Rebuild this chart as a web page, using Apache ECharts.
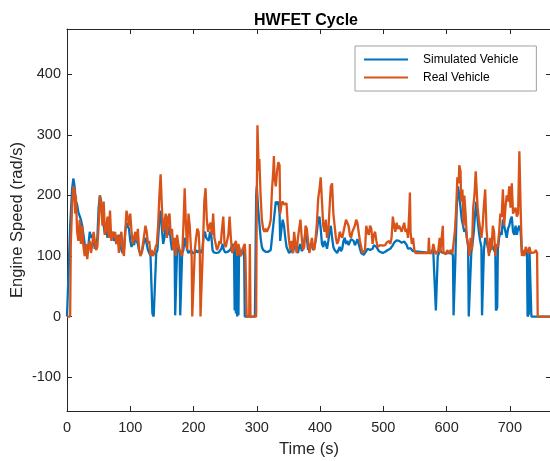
<!DOCTYPE html>
<html>
<head>
<meta charset="utf-8">
<script src="https://cdn.jsdelivr.net/npm/echarts@6/dist/echarts.min.js"></script>
<style>html,body{margin:0;padding:0;background:#fff}#c{width:550px;height:461px}</style>
</head>
<body>
<div id="c"></div>
<script>
const xTicks = [0,100,200,300,400,500,600,700];
const yTicks = [-100,0,100,200,300,400];

const simTime = [0,2,5,8,10,12,14,16,18,20,22,24,26,28,30,32,34,36,38,40,42,44,46,48,50,52,54,56,58,60,62,64,66,68,70,72,74,76,78,80,82,84,86,88,90,92,94,96,98,100,102,104,106,108,110,112,114,116,118,120,122,124,126,128,130,132,134,135,137,140,141,143,146,148,150,152,154,156,158,160,162,164,166,168,170,171,173,174,176,178,179,181,182,184,186,188,190,192,194,196,198,200,202,204,206,208,210,212,214,216,218,220,222,224,226,228,230,232,236,240,244,246,248,250,254,258,262,264,265,266,267,268,269,270,271,272,274,276,278,280,281,297,299,300,302,304,306,308,310,314,318,322,324,326,328,330,332,334,336,337,339,341,343,345,347,349,351,353,355,357,359,361,363,365,367,369,371,373,375,377,379,381,383,385,387,389,391,393,395,397,399,401,403,405,407,409,411,413,415,417,419,421,423,425,427,429,431,433,435,437,439,441,443,445,447,449,451,453,455,457,459,461,463,465,467,469,471,473,475,477,479,481,483,485,487,489,491,493,495,499,503,507,511,513,515,517,519,521,523,525,527,529,531,533,535,537,539,541,543,545,547,549,575,577,579,581,583,585,586,588,590,592,594,598,600,602,604,606,608,610,611,613,614,616,618,620,622,624,626,628,630,632,634,635,638,639,641,643,645,647,649,651,653,655,656,658,659,661,663,665,667,669,671,673,675,677,678,680,681,683,685,687,689,691,693,695,697,699,701,703,705,707,709,711,713,715,717,719,721,725,727,728,730,731,733,734,765];
const simSpeed = [0,60,150,210,228,215,190,185,172,170,160,150,135,120,110,105,120,140,130,135,125,112,115,130,180,200,198,180,150,135,145,130,150,140,135,140,125,130,120,125,135,120,110,105,110,140,155,150,145,125,115,125,118,130,125,120,108,105,105,115,125,130,120,110,105,100,100,5,0,0,105,110,160,175,145,120,130,150,140,135,150,125,110,115,125,2,5,110,115,105,2,0,105,110,130,120,110,105,105,110,105,108,105,110,106,105,110,105,110,135,140,130,132,125,140,135,110,106,105,106,112,120,110,106,107,110,120,105,10,120,5,110,0,115,2,115,100,105,110,100,0,0,200,215,180,155,130,115,110,107,107,110,130,150,170,190,185,190,170,125,145,160,150,130,115,110,105,108,110,105,115,120,110,105,115,120,108,112,125,140,130,110,120,115,120,110,115,125,140,160,165,145,120,115,125,120,112,125,140,150,130,115,110,108,105,110,115,108,112,125,130,120,125,118,120,128,130,125,118,122,128,120,112,105,102,102,105,108,112,115,110,108,112,118,120,115,112,108,105,105,107,110,112,115,118,122,120,126,128,125,128,122,125,124,126,118,112,112,113,110,108,105,105,110,106,105,10,10,100,105,110,106,105,105,104,105,108,105,104,102,2,0,100,180,215,200,180,160,150,140,145,130,115,0,0,105,120,140,170,190,160,140,125,115,2,5,110,130,125,115,105,110,120,115,110,105,10,15,110,130,140,135,160,150,140,130,145,150,160,165,140,135,150,135,145,150,140,105,105,105,110,0,5,110,110,0,0];

const realTime = [0,5,6,8,10,12,13,14,16,18,20,22,24,26,28,30,32,34,36,38,40,42,44,46,48,50,52,54,56,58,60,62,64,66,68,70,72,74,76,78,80,82,84,86,88,90,92,94,96,98,100,102,104,106,108,110,112,114,116,118,120,122,124,126,128,130,132,134,136,138,140,142,144,146,148,150,152,154,156,158,160,162,164,166,168,170,172,174,176,178,180,182,184,186,188,190,192,194,196,197,198,201,202,204,206,208,210,211,214,215,217,219,221,223,225,227,229,231,233,235,237,239,241,243,245,247,249,251,253,255,257,259,261,263,265,267,269,271,273,275,277,279,281,282,284,288,289,290,299,300,301,302,303,304,306,308,310,312,314,316,318,320,322,324,326,327,328,330,332,334,336,337,339,341,343,345,347,349,351,353,355,357,359,361,363,365,367,369,371,373,375,377,379,381,383,385,387,389,391,393,395,397,399,401,403,405,407,409,411,413,415,417,419,421,423,425,427,429,431,433,435,437,439,441,443,445,447,449,451,453,455,457,459,461,463,465,467,469,471,473,475,477,479,481,483,485,487,489,491,493,495,497,499,501,503,505,507,509,511,513,515,517,519,521,523,525,527,529,531,533,535,537,539,541,542,543,545,547,549,551,571,572,573,577,579,581,583,585,587,589,590,592,594,595,597,599,601,603,605,607,609,611,613,615,617,619,620,622,623,625,627,628,630,632,634,636,638,640,642,644,646,647,649,651,653,655,657,659,661,663,665,667,669,671,673,675,677,679,681,683,685,687,689,691,693,695,697,699,701,703,705,707,709,711,713,715,717,719,721,723,725,727,729,731,733,735,739,741,743,744,765];
const realSpeed = [0,0,120,180,215,210,170,200,140,125,160,120,150,115,100,120,95,115,125,105,120,140,125,110,115,150,200,185,150,190,135,145,165,130,175,125,140,130,140,120,135,105,130,140,110,100,140,175,165,150,170,140,120,130,140,125,145,110,100,105,120,135,150,140,120,125,100,110,100,105,115,120,150,200,235,180,140,155,170,130,165,170,135,145,110,130,100,135,120,110,105,100,150,212,150,110,170,150,110,100,0,0,110,130,145,140,100,0,0,120,190,212,160,140,150,155,135,170,130,120,110,115,125,120,145,165,120,115,125,135,165,130,105,110,120,125,100,120,105,100,110,110,120,100,0,0,120,0,0,200,316,280,240,260,200,160,145,140,145,140,145,150,160,210,240,265,230,215,240,255,250,170,185,190,185,185,187,150,125,110,125,105,140,120,105,130,145,160,130,110,115,150,145,125,105,115,130,115,110,130,155,195,210,230,190,150,140,160,130,140,180,215,220,170,150,130,120,125,140,135,130,140,150,160,158,150,135,130,140,145,150,160,155,140,125,115,105,102,110,150,140,135,150,145,120,135,140,125,115,112,118,115,117,120,118,122,120,125,120,130,165,150,140,155,145,150,145,140,148,155,140,145,130,175,205,140,120,130,110,105,105,130,105,105,120,110,103,103,110,130,105,105,150,105,103,103,110,105,103,110,103,100,140,175,230,220,250,240,190,210,150,200,170,130,120,100,130,110,180,200,240,220,180,160,145,130,150,185,210,145,120,100,130,110,150,140,100,120,115,140,170,165,210,150,180,200,190,215,180,220,170,175,180,165,170,273,180,100,110,100,115,110,105,115,105,106,106,110,105,0,0];

const zip = (a, b) => a.map((t, i) => [t, b[i]]);
const axisCol = '#262626';
const fontFam = '"Liberation Sans", Arial, sans-serif';
const lineIcon = 'path://M0,0 L44,0 L44,0.01 Z M0,5.4 L44,5.4 L44,7.6 L0,7.6 Z M0,13 L44,13 L44,13.01 Z';

const chart = echarts.init(document.getElementById('c'), null, {renderer: 'canvas'});
chart.setOption({
  animation: false,
  backgroundColor: '#fff',
  title: {
    text: 'HWFET Cycle', left: 301, top: 8, textAlign: 'center',
    textStyle: {fontFamily: fontFam, fontSize: 16, fontWeight: 'bold', color: '#000'}
  },
  legend: {
    orient: 'vertical', left: 355, top: 46,
    data: [{name: 'Simulated Vehicle', icon: lineIcon}, {name: 'Real Vehicle', icon: lineIcon}],
    borderColor: '#a0a0a0', borderWidth: 1, backgroundColor: '#fff',
    padding: [7, 18, 7, 9], itemGap: 5, itemWidth: 44, itemHeight: 13,
    textStyle: {fontFamily: fontFam, fontSize: 12, color: '#000', padding: [0, 0, 0, 10]}
  },
  grid: {left: 67, right: -1, top: 29, bottom: 50, containLabel: false, outerBoundsMode: 'none'},
  xAxis: [{
    type: 'value', min: 0, max: 765, position: 'bottom',
    name: 'Time (s)', nameLocation: 'middle', nameGap: 30, nameMoveOverlap: false,
    nameTextStyle: {fontFamily: fontFam, fontSize: 16.5, color: axisCol},
    axisLine: {onZero: false, lineStyle: {color: axisCol, width: 1}},
    axisTick: {inside: true, length: 5, customValues: xTicks, lineStyle: {color: axisCol}},
    axisLabel: {customValues: xTicks, fontFamily: fontFam, fontSize: 14.5, color: axisCol, margin: 9},
    splitLine: {show: false}
  }, {
    type: 'value', min: 0, max: 765, position: 'top',
    axisLine: {onZero: false, lineStyle: {color: axisCol, width: 1}},
    axisTick: {inside: true, length: 5, customValues: xTicks, lineStyle: {color: axisCol}},
    axisLabel: {show: false}, splitLine: {show: false}
  }],
  yAxis: [{
    type: 'value', min: -156, max: 475, position: 'left',
    name: 'Engine Speed (rad/s)', nameLocation: 'middle', nameGap: 41, nameMoveOverlap: false,
    nameTextStyle: {fontFamily: fontFam, fontSize: 16.5, color: axisCol},
    axisLine: {show: true, onZero: false, lineStyle: {color: axisCol, width: 1}},
    axisTick: {show: true, inside: true, length: 5, customValues: yTicks, lineStyle: {color: axisCol}},
    axisLabel: {customValues: yTicks, fontFamily: fontFam, fontSize: 14.5, color: axisCol, margin: 6},
    splitLine: {show: false}
  }, {
    type: 'value', min: -156, max: 475, position: 'right',
    axisLine: {show: true, onZero: false, lineStyle: {color: axisCol, width: 1}},
    axisTick: {show: true, inside: true, length: 5, customValues: yTicks, lineStyle: {color: axisCol}},
    axisLabel: {show: false}, splitLine: {show: false}
  }],
  series: [{
    name: 'Simulated Vehicle', type: 'line', data: zip(simTime, simSpeed),
    symbol: 'none', color: '#0072BD', lineStyle: {width: 2.3, color: '#0072BD'}, z: 2
  }, {
    name: 'Real Vehicle', type: 'line', data: zip(realTime, realSpeed),
    symbol: 'none', color: '#D95319', lineStyle: {width: 2.3, color: '#D95319'}, z: 3
  }]
});
</script>
</body>
</html>
